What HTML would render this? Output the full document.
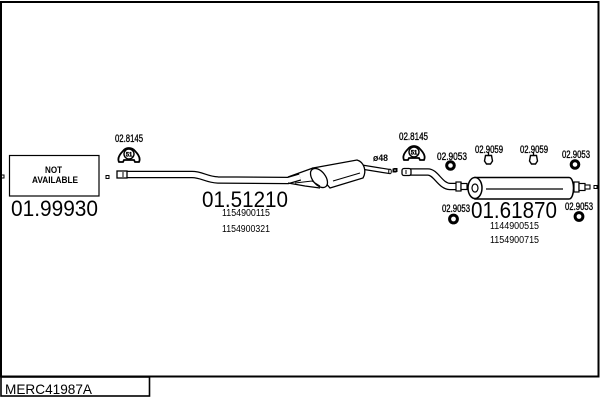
<!DOCTYPE html>
<html><head><meta charset="utf-8"><style>
html,body{margin:0;padding:0;background:#fff;}
svg{display:block;}
text{font-family:"Liberation Sans",sans-serif;fill:#000;}
.lb{stroke:#000;stroke-width:0.35;}
</style></head><body>
<svg width="600" height="400" viewBox="0 0 600 400" xmlns="http://www.w3.org/2000/svg">
<rect x="0" y="0" width="600" height="400" fill="#fff"/>
<!-- frame -->
<rect x="1" y="2" width="597.5" height="374.5" fill="none" stroke="#000" stroke-width="2"/>
<rect x="1" y="377" width="148.5" height="19" fill="none" stroke="#000" stroke-width="1.6"/>
<text x="5" y="394" font-size="14" textLength="87" lengthAdjust="spacingAndGlyphs">MERC41987A</text>

<!-- NOT AVAILABLE -->
<rect x="1" y="175" width="3" height="3" fill="none" stroke="#000" stroke-width="1"/>
<rect x="9.5" y="155.5" width="89.5" height="40.5" fill="none" stroke="#000" stroke-width="1.2"/>
<text x="45" y="173" font-size="9" font-weight="bold" textLength="17" lengthAdjust="spacingAndGlyphs">NOT</text>
<text x="32" y="183" font-size="9" font-weight="bold" textLength="46" lengthAdjust="spacingAndGlyphs">AVAILABLE</text>
<rect x="106" y="175.5" width="3" height="3" fill="none" stroke="#000" stroke-width="1"/>
<text x="11" y="216" font-size="22" textLength="87" lengthAdjust="spacingAndGlyphs">01.99930</text>

<!-- left clamp 02.8145 -->
<text class="lb" x="115" y="142" font-size="11" textLength="28" lengthAdjust="spacingAndGlyphs">02.8145</text>
<g transform="translate(129,155)">
<path d="M-10,7 C-12,3 -9,-1 -6,-4 C-3,-8 3,-8 6,-4 C9,-1 12,3 10,7 L6,7 L5,5 L-5,5 L-6,7 Z" fill="#fff" stroke="#000" stroke-width="1.8"/>
<circle cx="0" cy="-1" r="5" fill="#fff" stroke="#000" stroke-width="1.4"/>
<text class="lb" x="-3.3" y="1.5" font-size="6.5" font-weight="bold" textLength="6.6" lengthAdjust="spacingAndGlyphs">51</text>
</g>

<!-- left pipe -->
<path d="M120,174.5 L192,174.5 C202,174.5 206,179.5 218,180 L288,180.5 L300,177" fill="none" stroke="#000" stroke-width="7.5"/>
<path d="M120,174.5 L192,174.5 C202,174.5 206,179.5 218,180 L288,180.5 L300,177" fill="none" stroke="#fff" stroke-width="5"/>
<rect x="117" y="171" width="10" height="7" fill="#fff" stroke="#000" stroke-width="1.3"/>
<line x1="123" y1="172" x2="123" y2="177" stroke="#000" stroke-width="1"/>

<!-- front muffler -->
<path d="M288,177 L313,168 M288,183 L305,186 L320,188" fill="none" stroke="#000" stroke-width="1.2"/>
<path d="M362,165 L390,169.5 L389,173.5 L361,169" fill="#fff" stroke="#000" stroke-width="1.2"/>
<ellipse cx="390" cy="171.5" rx="1.3" ry="2.2" fill="#fff" stroke="#000" stroke-width="1"/>
<path d="M313,168 L357,160 C364,162 367,171 363,178 L330,188 Z" fill="#fff" stroke="#000" stroke-width="1.3"/>
<path d="M333,181 L360,173" fill="none" stroke="#000" stroke-width="1"/>
<ellipse cx="319" cy="178" rx="6.5" ry="11" transform="rotate(-38 319 178)" fill="#fff" stroke="#000" stroke-width="1.3"/>
<path d="M295,183 L312,181 L320,186" fill="none" stroke="#000" stroke-width="1"/>
<rect x="394" y="168.5" width="3" height="3" fill="none" stroke="#000" stroke-width="1"/>
<text x="373" y="161" font-size="9" font-weight="bold" textLength="15" lengthAdjust="spacingAndGlyphs">ø48</text>
<text x="202" y="207" font-size="22" textLength="86" lengthAdjust="spacingAndGlyphs">01.51210</text>
<text x="222" y="216" font-size="10" textLength="48" lengthAdjust="spacingAndGlyphs">1154900115</text>
<text x="222" y="232" font-size="10" textLength="48" lengthAdjust="spacingAndGlyphs">1154900321</text>

<!-- right clamp 02.8145 -->
<text class="lb" x="399" y="140" font-size="11" textLength="29" lengthAdjust="spacingAndGlyphs">02.8145</text>
<g transform="translate(414,153)">
<path d="M-10,7 C-12,3 -9,-1 -6,-4 C-3,-8 3,-8 6,-4 C9,-1 12,3 10,7 L6,7 L5,5 L-5,5 L-6,7 Z" fill="#fff" stroke="#000" stroke-width="1.8"/>
<circle cx="0" cy="-1" r="5" fill="#fff" stroke="#000" stroke-width="1.4"/>
<text class="lb" x="-3.3" y="1.5" font-size="6.5" font-weight="bold" textLength="6.6" lengthAdjust="spacingAndGlyphs">51</text>
</g>

<!-- rear pipe -->
<rect x="393" y="169" width="3" height="3" fill="none" stroke="#000" stroke-width="1"/>
<path d="M405,172 L428,172 C436,172 440,186 450,186.5 L462,186.5" fill="none" stroke="#000" stroke-width="7.5"/>
<path d="M405,172 L428,172 C436,172 440,186 450,186.5 L462,186.5" fill="none" stroke="#fff" stroke-width="5"/>
<rect x="402" y="168.5" width="9" height="7" rx="2" fill="#fff" stroke="#000" stroke-width="1.3"/>
<line x1="406" y1="170" x2="406" y2="174" stroke="#000" stroke-width="1"/>
<rect x="456" y="182" width="5" height="9" fill="#fff" stroke="#000" stroke-width="1.2"/>
<rect x="461" y="183.5" width="6" height="6" fill="#fff" stroke="#000" stroke-width="1.2"/>

<!-- rear muffler -->
<path d="M475,177.5 L569,177.5 C575,177.5 575,199 569,199 L475,199 Z" fill="#fff" stroke="#000" stroke-width="1.5"/>
<ellipse cx="475" cy="188" rx="7" ry="10.5" fill="#fff" stroke="#000" stroke-width="1.5"/>
<ellipse cx="475" cy="188" rx="3" ry="4" fill="#fff" stroke="#000" stroke-width="1.2"/>
<line x1="486" y1="189" x2="563" y2="189" stroke="#000" stroke-width="1.2"/>
<rect x="574" y="182" width="5" height="10" fill="#fff" stroke="#000" stroke-width="1.2"/>
<rect x="579" y="183.5" width="6" height="7" fill="#fff" stroke="#000" stroke-width="1.2"/>
<rect x="585" y="185" width="5" height="4" fill="#fff" stroke="#000" stroke-width="1.1"/>
<rect x="594" y="185.5" width="3" height="3" fill="none" stroke="#000" stroke-width="1"/>

<text x="471" y="218" font-size="23" textLength="86" lengthAdjust="spacingAndGlyphs">01.61870</text>
<text x="490" y="229" font-size="10" textLength="49" lengthAdjust="spacingAndGlyphs">1144900515</text>
<text x="490" y="243" font-size="10" textLength="49" lengthAdjust="spacingAndGlyphs">1154900715</text>

<!-- small clamps -->
<text class="lb" x="437" y="160" font-size="11" textLength="30" lengthAdjust="spacingAndGlyphs">02.9053</text>
<circle cx="450.5" cy="165.5" r="3.8" fill="#fff" stroke="#000" stroke-width="3"/>

<text class="lb" x="475" y="153" font-size="11" textLength="28" lengthAdjust="spacingAndGlyphs">02.9059</text>
<path d="M485.5,155.5 L491.5,155.5 L492.5,161 L490.5,164 L486.5,164 L484.5,161 Z" fill="#fff" stroke="#000" stroke-width="1.4"/>
<line x1="488.5" y1="152" x2="488.5" y2="156" stroke="#000" stroke-width="1.3"/>

<text class="lb" x="520" y="153" font-size="11" textLength="28" lengthAdjust="spacingAndGlyphs">02.9059</text>
<path d="M530.5,155.5 L536.5,155.5 L537.5,161 L535.5,164 L531.5,164 L529.5,161 Z" fill="#fff" stroke="#000" stroke-width="1.4"/>
<line x1="533.5" y1="152" x2="533.5" y2="156" stroke="#000" stroke-width="1.3"/>

<text class="lb" x="562" y="158" font-size="11" textLength="28" lengthAdjust="spacingAndGlyphs">02.9053</text>
<circle cx="575" cy="164.5" r="3.8" fill="#fff" stroke="#000" stroke-width="3"/>

<text class="lb" x="442" y="212" font-size="11" textLength="28" lengthAdjust="spacingAndGlyphs">02.9053</text>
<circle cx="453.5" cy="219" r="3.9" fill="#fff" stroke="#000" stroke-width="3"/>

<text class="lb" x="565" y="210" font-size="11" textLength="28" lengthAdjust="spacingAndGlyphs">02.9053</text>
<circle cx="579" cy="216.5" r="3.9" fill="#fff" stroke="#000" stroke-width="3"/>
</svg>
</body></html>
